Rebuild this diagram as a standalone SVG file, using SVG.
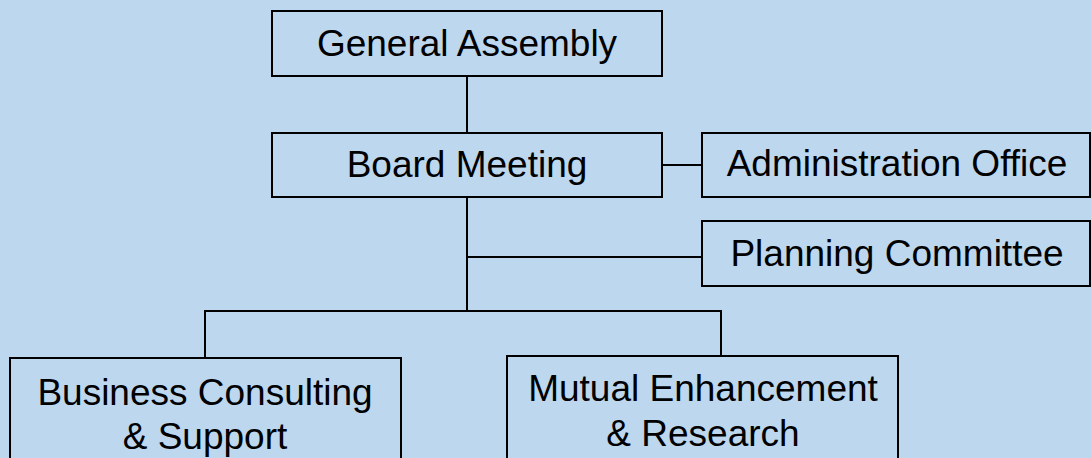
<svg xmlns="http://www.w3.org/2000/svg" width="1091" height="458" viewBox="0 0 1091 458">
<style>
.box{fill:#BDD7EE;stroke:#000;stroke-width:2}
.lbl{font-family:"Liberation Sans",Arial,sans-serif;font-size:37px;fill:#000;text-anchor:middle}
.con{stroke:#000;stroke-width:2;fill:none}
</style>
<rect width="1091" height="458" fill="#BDD7EE"/>
<g id="connectors">
<line class="con" x1="467" y1="76" x2="467" y2="133"/>
<line class="con" x1="662" y1="165" x2="702" y2="165"/>
<line class="con" x1="467" y1="197" x2="467" y2="311"/>
<line class="con" x1="467" y1="257" x2="702" y2="257"/>
<polyline class="con" points="205,358 205,311 721,311 721,356"/>
</g>
<g id="general-assembly">
<rect class="box" x="272" y="11" width="390" height="65"/>
<text class="lbl" x="467" y="56">General Assembly</text>
</g>
<g id="board-meeting">
<rect class="box" x="272" y="133" width="390" height="64"/>
<text class="lbl" x="467" y="177">Board Meeting</text>
</g>
<g id="administration-office">
<rect class="box" x="702" y="133" width="388" height="64"/>
<text class="lbl" x="897" y="176">Administration Office</text>
</g>
<g id="planning-committee">
<rect class="box" x="702" y="221" width="388" height="65"/>
<text class="lbl" x="897" y="266">Planning Committee</text>
</g>
<g id="business-consulting">
<rect class="box" x="10" y="358" width="391" height="110"/>
<text class="lbl" x="205" y="405">Business Consulting</text>
<text class="lbl" x="205" y="449">&amp; Support</text>
</g>
<g id="mutual-enhancement">
<rect class="box" x="507" y="356" width="391" height="110"/>
<text class="lbl" x="703" y="401">Mutual Enhancement</text>
<text class="lbl" x="703" y="446">&amp; Research</text>
</g>
</svg>
